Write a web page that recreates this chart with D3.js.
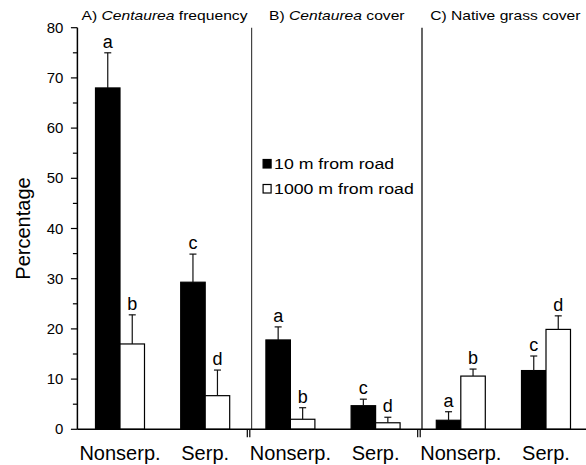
<!DOCTYPE html>
<html>
<head>
<meta charset="utf-8">
<script src="https://cdn.jsdelivr.net/npm/d3@7"></script>
<style>
  body { margin: 0; background: #fff; }
  text { font-family: "Liberation Sans", Arial, Helvetica, sans-serif; fill: #000; }
</style>
</head>
<body>
<script>
// data
const sites = ["Nonserp.", "Serp.", "Nonserp.", "Serp.", "Nonserp.", "Serp."]
const near10 = [68.0, 29.3, 17.8, 4.7, 1.8, 11.7]
const near10Err = [7.0, 5.6, 2.6, 1.3, 1.7, 2.9]
const far1000 = [17.0, 6.7, 2.0, 1.3, 10.6, 19.9]
const far1000Err = [5.8, 5.1, 2.3, 1.1, 1.4, 2.7]
const nearLetters = ["a", "c", "a", "c", "a", "c"]
const farLetters = ["b", "d", "b", "d", "b", "d"]
const titlePrefix = ["A) ", "B) ", "C) "]
const titleItalic = ["Centaurea", "Centaurea", ""]
const titleRest = [" frequency", " cover", "Native grass cover"]
const legendLabels = ["10 m from road", "1000 m from road"]
const yTicks = [0, 10, 20, 30, 40, 50, 60, 70, 80]
const yMinorTicks = [5, 15, 25, 35, 45, 55, 65, 75]

let w = 586
let h = 465

let svg = d3.select("body")
    .append("svg")
    .attr("width", w)
    .attr("height", h)

let idx = d3.range(sites.length)

let x = d3.scaleBand()
    .domain(idx)
    .range([77.4, 588.6])
    .paddingInner(0.425)
    .paddingOuter(0.2125)

let xs = d3.scaleBand()
    .domain(["near", "far"])
    .range([0, x.bandwidth()])

let y = d3.scaleLinear()
    .domain([0, 80])
    .range([429.3, 27.7])

let rows = idx.map(i => [
    {i: i, key: "near", v: near10[i], e: near10Err[i], l: nearLetters[i]},
    {i: i, key: "far", v: far1000[i], e: far1000Err[i], l: farLetters[i]}
]).flat()

// panel boundaries
let mids = [1, 3].map(i => x(i) + x.bandwidth() + (x.step() - x.bandwidth()) / 2)
let seps = mids.map(m => m + 3.8)
let bounds = [x.range()[0], seps[0], seps[1], x.range()[1]]

// separators
svg.append("g").selectAll("line")
    .data(seps)
    .enter().append("line")
    .attr("x1", d => d).attr("x2", d => d)
    .attr("y1", y(80)).attr("y2", y(0))
    .attr("stroke", (d, i) => i === 0 ? "#444" : "#000")
    .attr("stroke-width", 1.2)

// bars
let barW = xs.bandwidth()
svg.append("g").selectAll("rect")
    .data(rows)
    .enter().append("rect")
    .attr("x", d => x(d.i) + xs(d.key))
    .attr("y", d => y(d.v))
    .attr("width", barW)
    .attr("height", d => y(0) - y(d.v))
    .attr("fill", d => d.key === "near" ? "#000" : "#fff")
    .attr("stroke", "#000")
    .attr("stroke-width", 1.2)

// error bars (upper only)
let err = svg.append("g").selectAll("g")
    .data(rows)
    .enter().append("g")
    .attr("stroke", "#111")
    .attr("stroke-width", 1.2)
err.append("line")
    .attr("x1", d => x(d.i) + xs(d.key) + barW / 2)
    .attr("x2", d => x(d.i) + xs(d.key) + barW / 2)
    .attr("y1", d => y(d.v))
    .attr("y2", d => y(d.v + d.e))
err.append("line")
    .attr("x1", d => x(d.i) + xs(d.key) + barW / 2 - 3.5)
    .attr("x2", d => x(d.i) + xs(d.key) + barW / 2 + 3.5)
    .attr("y1", d => y(d.v + d.e))
    .attr("y2", d => y(d.v + d.e))

// significance letters
svg.append("g").selectAll("text")
    .data(rows)
    .enter().append("text")
    .attr("x", d => x(d.i) + xs(d.key) + barW / 2)
    .attr("y", d => y(d.v + d.e) - 5)
    .attr("text-anchor", "middle")
    .style("font-size", "18px")
    .text(d => d.l)

// y axis
let yAxis = svg.append("g")
yAxis.append("line")
    .attr("x1", x.range()[0]).attr("x2", x.range()[0])
    .attr("y1", y(0)).attr("y2", y(80))
    .attr("stroke", "#000").attr("stroke-width", 1.5)
yAxis.selectAll(".major")
    .data(yTicks)
    .enter().append("line")
    .attr("x1", x.range()[0] - 6.5).attr("x2", x.range()[0])
    .attr("y1", d => y(d)).attr("y2", d => y(d))
    .attr("stroke", "#000").attr("stroke-width", 1.2)
yAxis.selectAll(".minor")
    .data(yMinorTicks)
    .enter().append("line")
    .attr("x1", x.range()[0] - 4.5).attr("x2", x.range()[0])
    .attr("y1", d => y(d)).attr("y2", d => y(d))
    .attr("stroke", "#000").attr("stroke-width", 1.2)
yAxis.selectAll("g")
    .data(yTicks)
    .enter().append("g")
    .attr("transform", d => "translate(" + (x.range()[0] - 14) + "," + y(d) + ") scale(1.07,1)")
    .append("text")
    .attr("text-anchor", "end")
    .attr("dy", "0.36em")
    .style("font-size", "14px")
    .text(d => d)

svg.append("text")
    .attr("transform", "translate(30," + ((y(0) + y(80)) / 2 + 0) + ") rotate(-90)")
    .attr("text-anchor", "middle")
    .style("font-size", "20px")
    .text("Percentage")

// x axis
svg.append("line")
    .attr("x1", x.range()[0]).attr("x2", w)
    .attr("y1", y(0)).attr("y2", y(0))
    .attr("stroke", "#000").attr("stroke-width", 1.5)

// axis break marks
mids.forEach(m => {
    [m - 0.5, m + 2].forEach(bx => {
        svg.append("line")
            .attr("x1", bx).attr("x2", bx)
            .attr("y1", y(0)).attr("y2", y(0) + 8)
            .attr("stroke", "#000").attr("stroke-width", 1.2)
    })
})

svg.append("g").selectAll("text")
    .data(idx)
    .enter().append("text")
    .attr("x", d => x(d) + x.bandwidth() / 2)
    .attr("y", 460)
    .attr("text-anchor", "middle")
    .style("font-size", "20px")
    .text(d => sites[d])

// panel titles
let titles = svg.append("g").selectAll("g")
    .data([0, 1, 2])
    .enter().append("g")
    .attr("transform", d => "translate(" + (bounds[d] + bounds[d + 1]) / 2 + ",19.5) scale(1.15,1)")
    .append("text")
    .attr("text-anchor", "middle")
    .style("font-size", "13.6px")
titles.append("tspan").text(d => titlePrefix[d])
titles.append("tspan").style("font-style", "italic").text(d => titleItalic[d])
titles.append("tspan").text(d => titleRest[d])

// legend
let legend = svg.append("g")
    .attr("transform", "translate(" + (seps[0] + 11) + ",159)")
let li = legend.selectAll("g")
    .data(legendLabels)
    .enter().append("g")
    .attr("transform", (d, i) => "translate(0," + i * 25 + ")")
li.append("rect")
    .attr("x", 0.5).attr("y", 0.5)
    .attr("width", 8).attr("height", 8.5)
    .attr("fill", (d, i) => i === 0 ? "#000" : "#fff")
    .attr("stroke", "#000")
    .attr("stroke-width", 1.2)
li.append("g")
    .attr("transform", "translate(11.5,9.8) scale(1.15,1)")
    .append("text")
    .style("font-size", "15.4px")
    .text(d => d)
</script>
</body>
</html>
